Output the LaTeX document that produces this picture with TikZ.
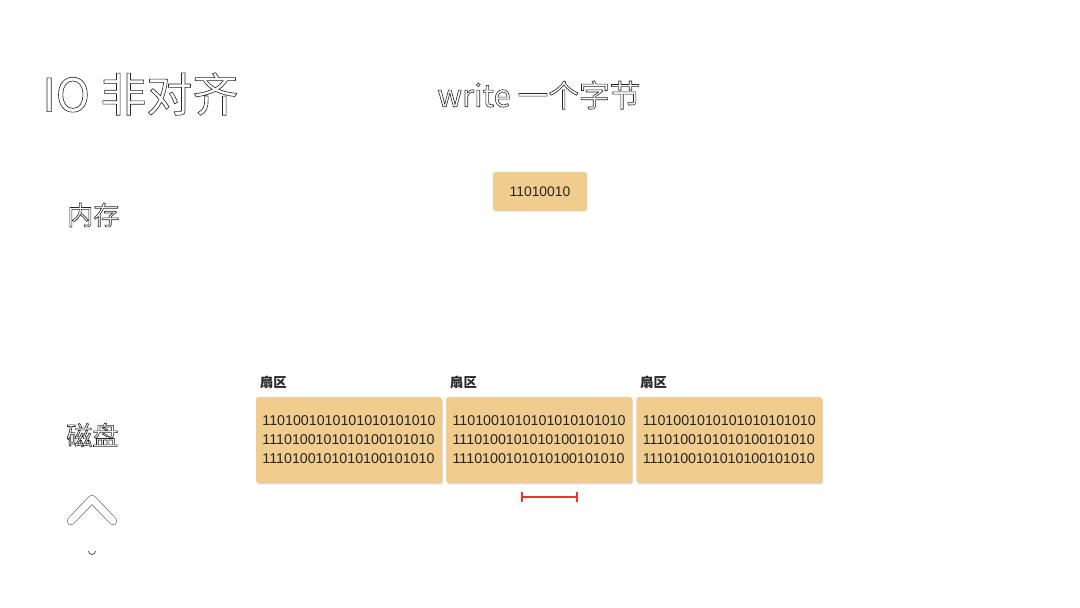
\documentclass[tikz,border=0pt]{standalone}
\usepackage{fontspec}
\setmainfont{Liberation Sans}
\newfontfamily\cjk{Noto Sans CJK SC}
\usetikzlibrary{arrows.meta,positioning,shadows}
\definecolor{sand}{HTML}{F0CC8F}
\definecolor{markred}{HTML}{E8392C}
\newcommand{\hollow}[1]{\special{pdf:literal direct 1 Tr 0.35 w}#1\special{pdf:literal direct 0 Tr}}
\tikzset{
    heading/.style={inner sep=0pt, text=black!85, font=\cjk\fontsize{26.2}{28}\selectfont},
    subheading/.style={inner sep=0pt, text=black!85, font=\cjk\fontsize{17.5}{20}\selectfont},
    side/.style={inner sep=0pt, text=black!85, font=\cjk\fontsize{14.8}{17}\selectfont},
    tag/.style={inner sep=0pt, text=black!85, font=\cjk\bfseries\fontsize{7.6}{9}\selectfont},
    bytebox/.style={fill=sand, rounded corners=1pt, minimum width=1.88cm, minimum height=0.78cm,
        inner sep=0pt, font=\fontsize{7.9}{9}\selectfont, text=black!85,
        drop shadow={opacity=0.12, shadow xshift=0.4pt, shadow yshift=-0.6pt}},
    sector/.style={fill=sand, rounded corners=1.5pt, minimum width=3.72cm, minimum height=1.72cm,
        inner sep=0pt, align=left, font=\fontsize{8.1}{10.8}\selectfont, text=black!85,
        drop shadow={opacity=0.3, shadow xshift=0.5pt, shadow yshift=-0.8pt}},
    gap/.style={{Bar[width=6pt]}-{Bar[width=6pt]}, line width=1.1pt, markred}
}
\begin{document}
\begin{tikzpicture}[x=0.02cm, y=-0.02cm]
    \useasboundingbox (0,0) rectangle (1080,608);
    \node[heading, anchor=west] (io) at (42,94) {\hollow{IO 非对齐}};
    \node[subheading] (wr) at (539,95) {\hollow{write 一个字节}};
    \node[side, anchor=west] (mem) at (67,215) {\hollow{内存}};
    \node[side, anchor=west] (disk) at (66,435) {\hollow{磁盘}};

    \node[bytebox] (byte) at (540,191.5) {11010010};

    \node[sector] (s1) at (349,440) {1101001010101010101010\\1110100101010100101010\\1110100101010100101010};
    \node[sector, right=0.07cm of s1] (s2) {1101001010101010101010\\1110100101010100101010\\1110100101010100101010};
    \node[sector, right=0.07cm of s2] (s3) {1101001010101010101010\\1110100101010100101010\\1110100101010100101010};
    \foreach \s/\t in {s1/t1,s2/t2,s3/t3}
        \node[tag, above=0.16cm of \s.north west, anchor=south west, xshift=0.08cm] (\t) {扇区};

    \coordinate (gl) at (521,497);
    \coordinate (gr) at (578,497);
    \draw[gap] (gl) -- (gr);

    % back-to-top chevron
    \draw[line width=4.6pt, black!75, line cap=round, line join=round] (71,521) -- (92,499) -- (113,521);
    \draw[line width=4pt, white, line cap=round, line join=round] (71,521) -- (92,499) -- (113,521);
    \draw[black!75, line width=0.4pt] (88.5,551) arc (180:0:3.5);
\end{tikzpicture}
\end{document}
